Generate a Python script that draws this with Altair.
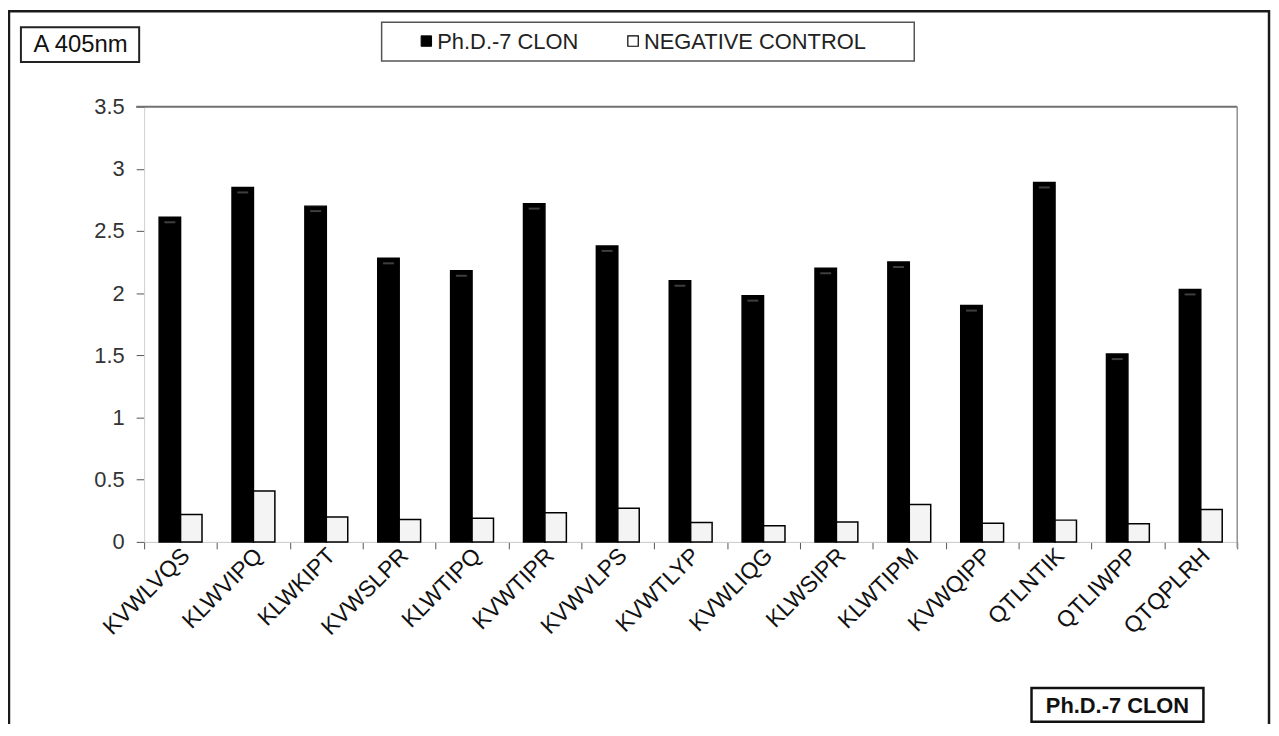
import altair as alt
import pandas as pd

# ---- data ----
categories = ["KVWLVQS", "KLWVIPQ", "KLWKIPT", "KVWSLPR", "KLWTIPQ", "KVWTIPR",
              "KVWVLPS", "KVWTLYP", "KVWLIQG", "KLWSIPR", "KLWTIPM", "KVWQIPP",
              "QTLNTIK", "QTLIWPP", "QTQPLRH"]
clone_values = [2.61, 2.85, 2.70, 2.28, 2.18, 2.72, 2.38, 2.10, 1.98, 2.20,
                2.25, 1.90, 2.89, 1.51, 2.03]
control_values = [0.22, 0.41, 0.20, 0.18, 0.19, 0.235, 0.27, 0.155, 0.13, 0.16,
                  0.30, 0.15, 0.175, 0.145, 0.26]
series_names = ["Ph.D.-7 CLON", "NEGATIVE CONTROL"]
series_colors = ["#000000", "#f4f4f4"]
y_ticks = [0, 0.5, 1, 1.5, 2, 2.5, 3, 3.5]
y_title = "A 405nm"
x_title = "Ph.D.-7 CLON"

rows = []
for c, v1, v2 in zip(categories, clone_values, control_values):
    rows.append({"peptide": c, "series": series_names[0], "value": v1})
    rows.append({"peptide": c, "series": series_names[1], "value": v2})
df = pd.DataFrame(rows)

FONT = "Liberation Sans"
W, H = 1100, 438

one = pd.DataFrame({"k": [0]})

x_enc = alt.X("peptide:N", sort=categories,
              scale=alt.Scale(paddingInner=0, paddingOuter=0),
              axis=alt.Axis(title=None, tickBand="extent", tickSize=7,
                            tickColor="#555555", domainColor="#c8c8c8",
                            labelAngle=-45, labelAlign="right",
                            labelBaseline="middle", labelPadding=3,
                            labelOffset=5,
                            labelFont=FONT, labelFontSize=23,
                            labelColor="#111111"))
xoff_enc = alt.XOffset("series:N", sort=series_names,
                       scale=alt.Scale(paddingInner=0, paddingOuter=0.7))
y_enc = alt.Y("value:Q", scale=alt.Scale(domain=[0, 3.5], nice=False),
              axis=alt.Axis(title=None, values=y_ticks, format="~g", grid=False,
                            tickSize=8, tickColor="#555555",
                            domainColor="#d0d0d0", labelPadding=12,
                            labelFont=FONT, labelFontSize=22,
                            labelColor="#333333"))

bars = alt.Chart(df).mark_bar(stroke="#000000", strokeWidth=1.5).encode(
    x=x_enc, xOffset=xoff_enc, y=y_enc,
    fill=alt.Fill("series:N", scale=alt.Scale(domain=series_names,
                                              range=series_colors),
                  legend=None),
)

# faint grey highlight just inside the top of each black bar
highlights = alt.Chart(df).transform_filter(
    alt.datum.series == series_names[0]
).mark_tick(color="#5a5a5a", thickness=2, size=11, yOffset=5).encode(
    x=x_enc, xOffset=xoff_enc, y=y_enc)

# plot area top and right border lines
top_line = alt.Chart(one).mark_rule(color="#707070", strokeWidth=2).encode(
    x=alt.value(-8), x2=alt.value(W), y=alt.value(0))
right_line = alt.Chart(one).mark_rule(color="#909090", strokeWidth=1.5).encode(
    x=alt.value(W), y=alt.value(0), y2=alt.value(H + 6))

# outer frame
frame = alt.Chart(one).mark_rect(fillOpacity=0, stroke="#1a1a1a",
                                 strokeWidth=2.5).encode(
    x=alt.value(-136), x2=alt.value(1132), y=alt.value(-96), y2=alt.value(700))

# y title box
ybox = alt.Chart(one).mark_rect(fillOpacity=0, stroke="#222222",
                                strokeWidth=2).encode(
    x=alt.value(-124), x2=alt.value(-5), y=alt.value(-80), y2=alt.value(-45))
ytext = alt.Chart(one).mark_text(text=y_title, font=FONT, fontSize=24,
                                 align="center", baseline="middle",
                                 color="#111111").encode(
    x=alt.value(-64), y=alt.value(-62))

# legend box
lbox = alt.Chart(one).mark_rect(fillOpacity=0, stroke="#555555",
                                strokeWidth=1.5).encode(
    x=alt.value(239), x2=alt.value(775), y=alt.value(-85), y2=alt.value(-46))
lsq1 = alt.Chart(one).mark_square(size=110, fill=series_colors[0], opacity=1,
                                  stroke="#000000", strokeWidth=1).encode(
    x=alt.value(284), y=alt.value(-66))
ltx1 = alt.Chart(one).mark_text(text=series_names[0], font=FONT, fontSize=22,
                                align="left", baseline="middle",
                                color="#222222").encode(
    x=alt.value(295), y=alt.value(-65))
lsq2 = alt.Chart(one).mark_square(size=110, fill="#ffffff", opacity=1,
                                  stroke="#000000", strokeWidth=1.2).encode(
    x=alt.value(492), y=alt.value(-66))
ltx2 = alt.Chart(one).mark_text(text=series_names[1], font=FONT, fontSize=22,
                                align="left", baseline="middle",
                                color="#222222").encode(
    x=alt.value(503), y=alt.value(-65))

# x title box
xbox = alt.Chart(one).mark_rect(fillOpacity=0, stroke="#111111",
                                strokeWidth=2.5).encode(
    x=alt.value(893), x2=alt.value(1066), y=alt.value(585), y2=alt.value(619))
xtext = alt.Chart(one).mark_text(text=x_title, font=FONT, fontSize=22,
                                 fontWeight="bold", align="center",
                                 baseline="middle", color="#111111").encode(
    x=alt.value(979.5), y=alt.value(603))

chart = alt.layer(
    frame, ybox, ytext, lbox, lsq1, ltx1, lsq2, ltx2, xbox, xtext,
    bars, highlights, top_line, right_line
).properties(
    width=W, height=H,
    padding={"left": 137, "top": 97, "right": 34, "bottom": 181},
    autosize=alt.AutoSizeParams(type="none"),
    background="#ffffff",
).configure_view(strokeWidth=0)

chart.save("out.html", embed_options={"renderer": "svg", "actions": False})
